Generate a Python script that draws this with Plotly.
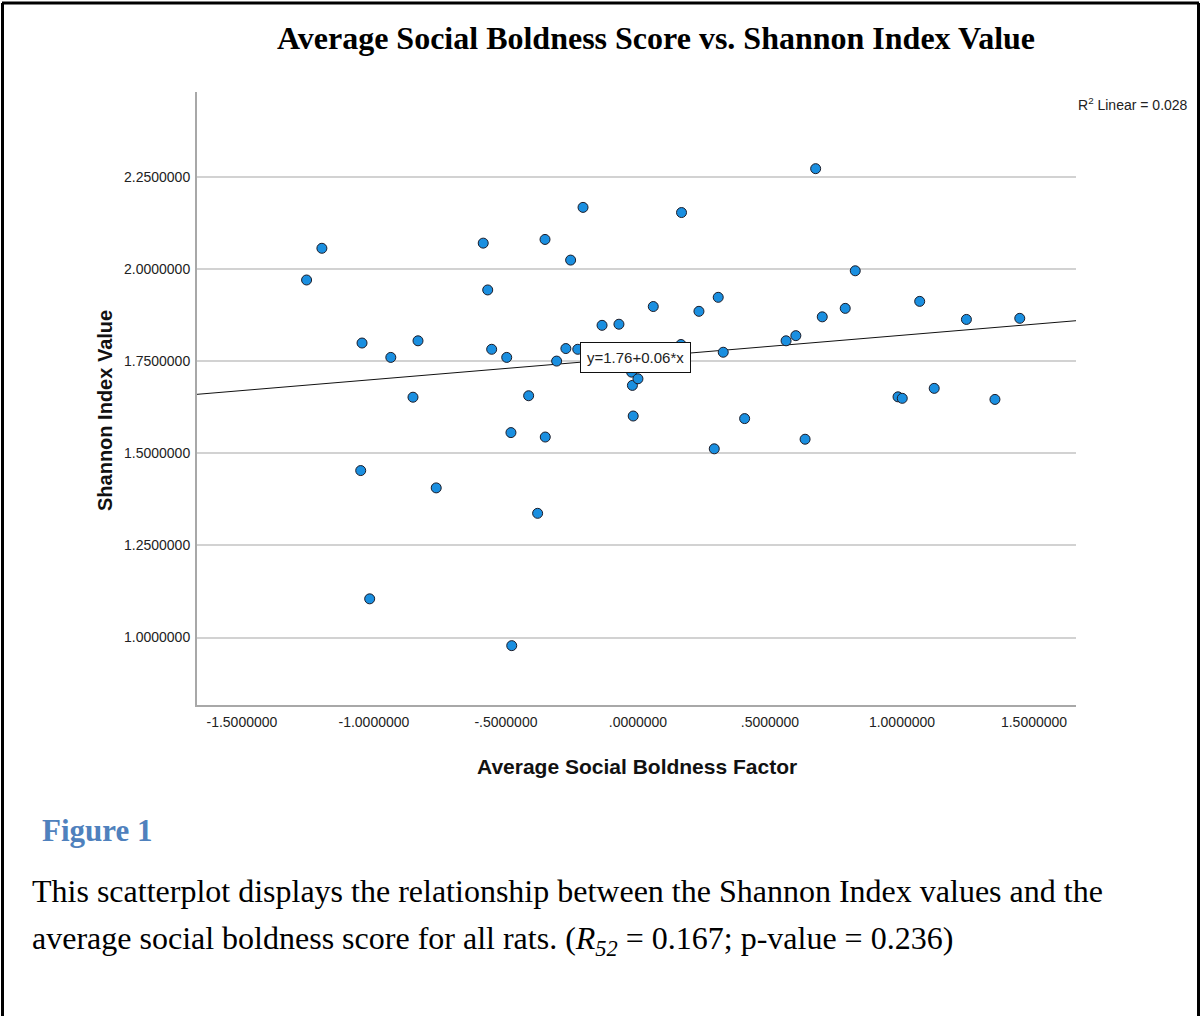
import plotly.graph_objects as go

# Average social boldness factor (x) and Shannon index value (y) per rat
boldness = [-1.255, -1.197, -1.045, -1.050, -1.016, -0.936, -0.852, -0.833, -0.764,
            -0.586, -0.569, -0.554, -0.497, -0.481, -0.478, -0.414, -0.380, -0.352,
            -0.351, -0.308, -0.273, -0.255, -0.228, -0.208, -0.136, -0.072, -0.024,
            -0.021, -0.018, 0.000, 0.058, 0.163, 0.165, 0.231, 0.289, 0.304, 0.323,
            0.404, 0.561, 0.598, 0.633, 0.673, 0.698, 0.785, 0.823, 0.985, 1.001,
            1.067, 1.122, 1.244, 1.352, 1.446]
shannon = [1.970, 2.056, 1.799, 1.453, 1.105, 1.760, 1.652, 1.805, 1.406,
           2.070, 1.943, 1.782, 1.760, 1.556, 0.978, 1.656, 1.337, 2.080,
           1.544, 1.750, 1.784, 2.024, 1.782, 2.167, 1.847, 1.850, 1.720,
           1.684, 1.601, 1.702, 1.898, 1.795, 2.153, 1.885, 1.512, 1.923, 1.774,
           1.594, 1.805, 1.819, 1.538, 2.272, 1.870, 1.893, 1.995, 1.653, 1.649,
           1.912, 1.676, 1.863, 1.646, 1.866]

# Linear fit reported on the chart
fit_intercept = 1.76
fit_slope = 0.06
r2_linear = 0.028

x_ticks = [-1.5, -1.0, -0.5, 0.0, 0.5, 1.0, 1.5]
x_tick_text = ["-1.5000000", "-1.0000000", "-.5000000", ".0000000",
               ".5000000", "1.0000000", "1.5000000"]
y_ticks = [1.0, 1.25, 1.5, 1.75, 2.0, 2.25]
y_tick_text = ["1.0000000", "1.2500000", "1.5000000", "1.7500000",
               "2.0000000", "2.2500000"]

W, H = 1201, 1016
x_range = [-1.670, 1.659]
y_range = [0.817, 2.480]

# plot area in page pixels
PL, PR, PT, PB = 197, 1076, 92, 705


def px(x):
    return x / W


def py(y):
    return 1 - y / H


fig = go.Figure()

fig.add_trace(go.Scatter(
    x=x_range,
    y=[fit_intercept + fit_slope * v for v in x_range],
    mode="lines",
    line=dict(color="#111111", width=1),
    hoverinfo="skip",
    showlegend=False,
))

fig.add_trace(go.Scatter(
    x=boldness,
    y=shannon,
    mode="markers",
    marker=dict(size=10, color="#1a8fe0", line=dict(color="#1c1c28", width=1)),
    showlegend=False,
))

serif = "Liberation Serif, Times New Roman, serif"
sans = "Liberation Sans, Arial, sans-serif"

fig.update_layout(
    width=W,
    height=H,
    margin=dict(l=0, r=0, t=0, b=0),
    paper_bgcolor="white",
    plot_bgcolor="white",
    xaxis=dict(
        domain=[px(PL), px(PR)],
        range=x_range,
        tickvals=x_ticks,
        ticktext=x_tick_text,
        showgrid=False,
        zeroline=False,
        showline=True,
        linecolor="#a8a8a8",
        linewidth=2,
        ticks="",
        ticklen=0,
        ticklabelstandoff=3,
        tickfont=dict(family=sans, size=14, color="#222222"),
        automargin=False,
    ),
    yaxis=dict(
        domain=[py(PB), py(PT)],
        range=y_range,
        tickvals=y_ticks,
        ticktext=y_tick_text,
        showgrid=True,
        gridcolor="#d2d2d2",
        gridwidth=2,
        zeroline=False,
        showline=True,
        linecolor="#a8a8a8",
        linewidth=2,
        ticks="",
        ticklen=0,
        ticklabelstandoff=2,
        tickfont=dict(family=sans, size=14, color="#222222"),
        automargin=False,
    ),
)

annotations = [
    # chart title
    dict(x=px(656), y=py(38), text="<b>Average Social Boldness Score vs. Shannon Index Value</b>",
         font=dict(family=serif, size=32, color="black")),
    # axis titles
    dict(x=px(637), y=py(766), text="<b>Average Social Boldness Factor</b>",
         font=dict(family=sans, size=21, color="#111111")),
    dict(x=px(92), y=py(411), text="<b>Shannon Index Value</b>", textangle=-90,
         font=dict(family=sans, size=20, color="#111111")),
    # fit statistics
    dict(x=px(1076), y=py(104), xanchor="left", text=f"R<sup>2</sup> Linear = {r2_linear:.3f}",
         font=dict(family=sans, size=14, color="#222222")),
    dict(x=-0.008, y=fit_intercept, xref="x", yref="y",
         text=f"y={fit_intercept:.2f}+{fit_slope:.2f}*x",
         font=dict(family=sans, size=15, color="#222222"),
         bgcolor="white", bordercolor="#111111", borderwidth=1, borderpad=6),
    # figure caption
    dict(x=px(40), y=py(830), xanchor="left", text="<b>Figure 1</b>",
         font=dict(family=serif, size=31, color="#4f81bd")),
    dict(x=px(30), y=py(891), xanchor="left",
         text="This scatterplot displays the relationship between the Shannon Index values and the",
         font=dict(family=serif, size=32, color="black")),
    dict(x=px(30), y=py(940), xanchor="left",
         text="average social boldness score for all rats. (<i>R<sub>52</sub></i> = 0.167; p-value = 0.236)",
         font=dict(family=serif, size=32, color="black")),
]
for a in annotations:
    a.setdefault("xref", "paper")
    a.setdefault("yref", "paper")
    a.setdefault("yanchor", "middle")
    a.setdefault("showarrow", False)
    fig.add_annotation(**a)

# page frame
frame = dict(color="black", width=3)
fig.add_shape(type="line", xref="paper", yref="paper", x0=px(2), x1=px(1199), y0=py(3), y1=py(3), line=frame)
fig.add_shape(type="line", xref="paper", yref="paper", x0=px(2.5), x1=px(2.5), y0=py(3), y1=py(1016), line=frame)
fig.add_shape(type="line", xref="paper", yref="paper", x0=px(1198.5), x1=px(1198.5), y0=py(3), y1=py(1016), line=frame)

fig.write_html("out.html")
